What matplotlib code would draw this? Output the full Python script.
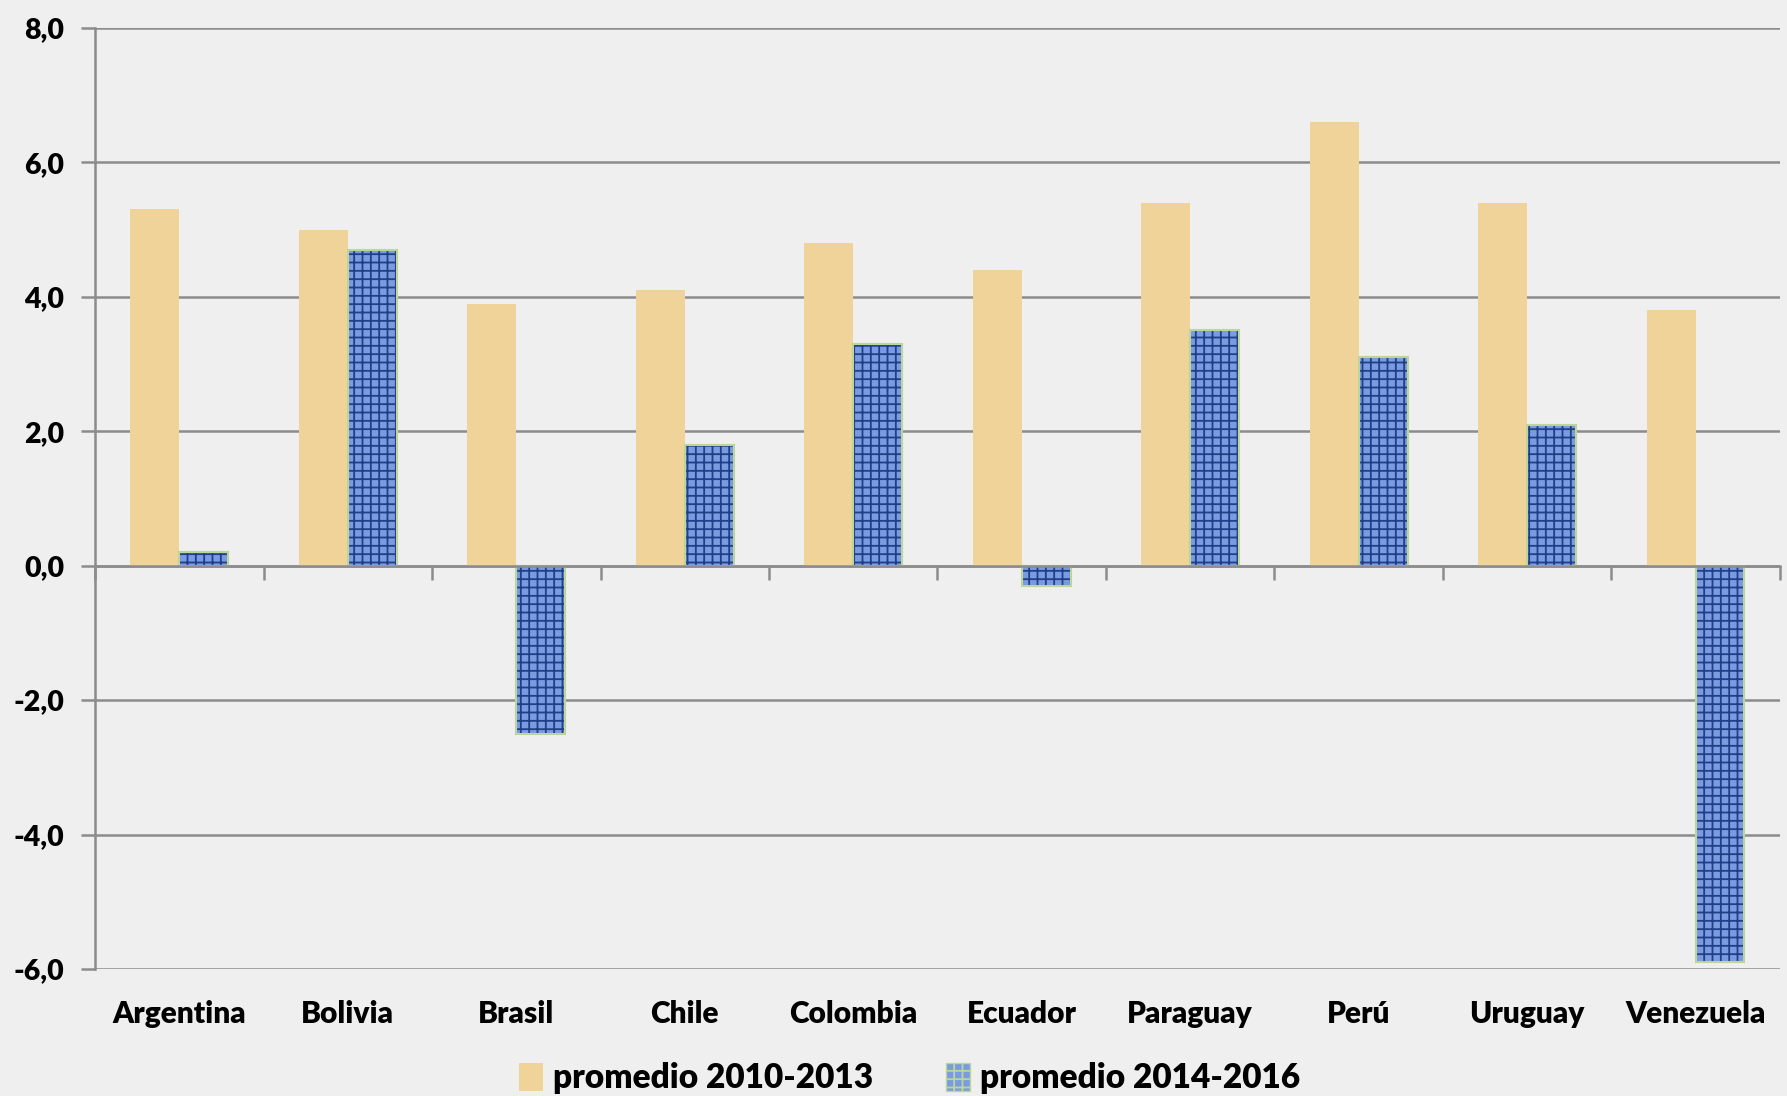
import numpy as np
import matplotlib.pyplot as plt
from matplotlib.patches import Patch

paises = ['Argentina', 'Bolivia', 'Brasil', 'Chile', 'Colombia',
          'Ecuador', 'Paraguay', 'Perú', 'Uruguay', 'Venezuela']
prom_2010_2013 = [5.3, 5.0, 3.9, 4.1, 4.8, 4.4, 5.4, 6.6, 5.4, 3.8]
prom_2014_2016 = [0.2, 4.7, -2.5, 1.8, 3.3, -0.3, 3.5, 3.1, 2.1, -5.9]
yticks = [-6, -4, -2, 0, 2, 4, 6, 8]

plt.rcParams['font.family'] = ['Lato', 'DejaVu Sans']
plt.rcParams['font.weight'] = 'heavy'
plt.rcParams['hatch.linewidth'] = 1.3

fig = plt.figure(figsize=(17.87, 10.96), dpi=100)
fig.patch.set_facecolor('#efefef')
ax = fig.add_axes([0.0532, 0.1159, 0.9428, 0.8586])
ax.set_facecolor('#efefef')

x = np.arange(len(paises))
w = 0.29
ax.bar(x - w / 2, prom_2010_2013, w, color='#efd399', linewidth=0, zorder=3)
ax.bar(x + w / 2, prom_2014_2016, w, color='#7a9be0', edgecolor='#1f3f88',
       hatch='++', linewidth=0, zorder=3)
ax.bar(x + w / 2, prom_2014_2016, w, fill=False, edgecolor='#bcd69a',
       linewidth=1.5, zorder=4)
h1 = Patch(facecolor='#efd399', linewidth=0)
h2 = Patch(facecolor='#7a9be0', edgecolor='#bcd69a', hatch='++', linewidth=1)

ax.set_xlim(-0.5, 9.5)
ax.set_ylim(-6, 8)
ax.set_yticks(yticks)
ax.set_yticklabels([f'{v:.1f}'.replace('.', ',') for v in yticks], fontsize=20.5)
ax.yaxis.grid(True, color='#8c8c8c', linewidth=1.8, zorder=1)
ax.tick_params(axis='y', length=10, width=1.8, color='#8c8c8c', pad=12)

for s in ['top', 'right']:
    ax.spines[s].set_visible(False)
ax.spines['left'].set_color('#8c8c8c')
ax.spines['left'].set_linewidth(1.8)
ax.spines['bottom'].set_position(('data', 0))
ax.spines['bottom'].set_color('#8c8c8c')
ax.spines['bottom'].set_linewidth(1.8)
ax.spines['bottom'].set_zorder(5)
ax.set_xticks(np.arange(-0.5, 10, 1))
ax.set_xticklabels([])
ax.tick_params(axis='x', length=10, width=1.8, color='#8c8c8c')

sec = ax.secondary_xaxis('bottom')
sec.set_xticks(x)
sec.set_xticklabels(paises, fontsize=21.5)
sec.tick_params(length=0, pad=22)
sec.spines['bottom'].set_visible(False)

fig.legend([h1, h2], ['promedio 2010-2013', 'promedio 2014-2016'],
           loc='center', bbox_to_anchor=(0.509, 0.016), ncol=2, frameon=False,
           prop={'size': 24, 'weight': 'heavy'}, handlelength=0.7,
           handleheight=0.9, handletextpad=0.3, columnspacing=2.2)

fig.savefig('out.png', dpi=100, facecolor=fig.get_facecolor())
